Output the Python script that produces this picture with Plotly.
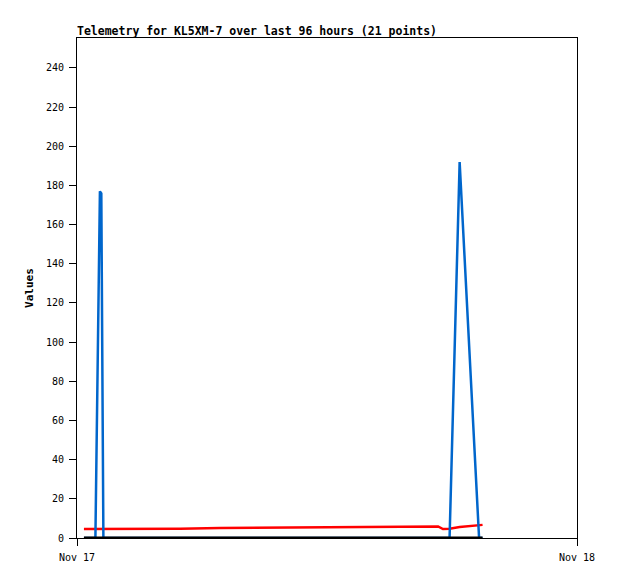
import plotly.graph_objects as go

times = [
    "2023-11-17 00:20", "2023-11-17 00:53", "2023-11-17 01:06", "2023-11-17 01:10",
    "2023-11-17 01:16", "2023-11-17 03:01", "2023-11-17 04:57", "2023-11-17 06:52",
    "2023-11-17 08:47", "2023-11-17 10:42", "2023-11-17 12:37", "2023-11-17 14:04",
    "2023-11-17 15:30", "2023-11-17 16:28", "2023-11-17 16:57", "2023-11-17 17:20",
    "2023-11-17 17:34", "2023-11-17 17:53", "2023-11-17 18:22", "2023-11-17 19:18",
    "2023-11-17 19:28",
]
blue_vals = [0, 0, 177, 176, 0, 0, 0, 0, 0, 0, 0, 0, 0, 0, 0, 0, 0, 0, 192, 0, 0]
red_vals = [4.6, 4.6, 4.6, 4.6, 4.6, 4.6, 4.7, 5.1, 5.2, 5.3, 5.5, 5.8, 5.8, 5.9, 5.9,
            5.9, 4.6, 4.7, 5.6, 6.6, 6.7]
black_vals = [0] * 21

x_ticks = ["2023-11-17 00:00", "2023-11-18 00:00"]
x_tick_labels = ["Nov 17", "Nov 18"]
y_ticks = list(range(0, 241, 20))

mono = "DejaVu Sans Mono"
W, H = 610, 571  # page body has an 8px margin

fig = go.Figure()
fig.add_trace(go.Scatter(x=times, y=red_vals, mode="lines",
                         line=dict(color="#ff0000", width=2.5), showlegend=False))
fig.add_trace(go.Scatter(x=times, y=blue_vals, mode="lines",
                         line=dict(color="#0066cc", width=2.5), showlegend=False))
fig.add_trace(go.Scatter(x=times, y=black_vals, mode="lines",
                         line=dict(color="#000000", width=3), showlegend=False))

fig.update_layout(
    width=W, height=H,
    margin=dict(l=69, r=41, t=30, b=41),
    paper_bgcolor="white", plot_bgcolor="white",
    title=dict(text="<b>Telemetry for KL5XM-7 over last 96 hours (21 points)</b>",
               x=69 / W, xanchor="left", xref="container",
               y=1 - 23 / H, yanchor="middle", yref="container",
               font=dict(family=mono, size=11.5, color="black")),
    font=dict(family=mono, size=10, color="black"),
)
fig.update_xaxes(
    type="date", range=x_ticks, tickmode="array", tickvals=x_ticks, ticktext=x_tick_labels,
    showgrid=False, zeroline=False, showline=True, linecolor="black", linewidth=1,
    mirror=True, ticks="outside", ticklen=7, tickcolor="black", ticklabelstandoff=3,
    tickfont=dict(family=mono, size=10),
)
fig.update_yaxes(
    range=[0, 255.3], tickmode="array", tickvals=y_ticks,
    showgrid=False, zeroline=False, showline=True, linecolor="black", linewidth=1,
    mirror=True, ticks="outside", ticklen=7, tickcolor="black", ticklabelstandoff=3,
    tickfont=dict(family=mono, size=10),
    title=dict(text="<b>Values</b>", font=dict(family=mono, size=11), standoff=10),
)

fig.write_html("out.html")
